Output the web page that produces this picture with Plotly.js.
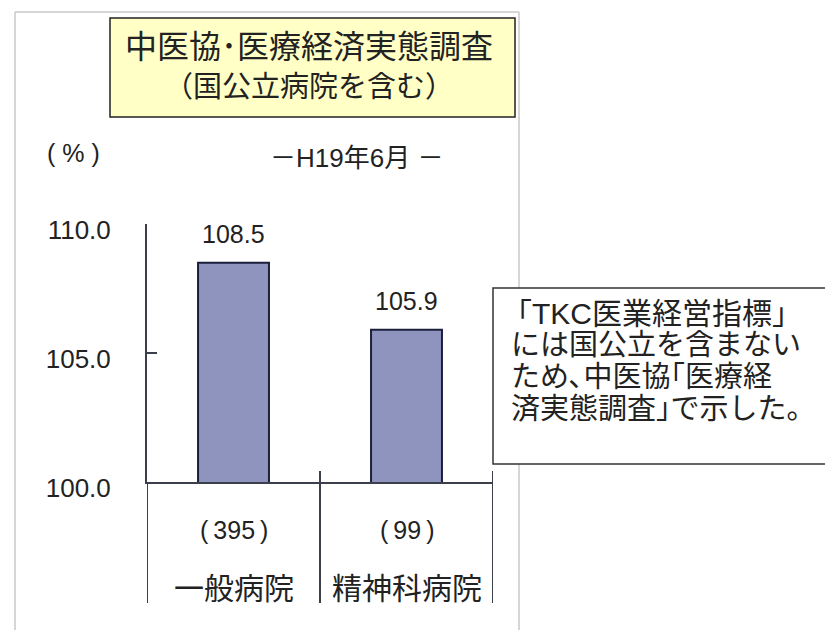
<!DOCTYPE html>
<html>
<head>
<meta charset="utf-8">
<script src="https://cdn.plot.ly/plotly-3.0.1.min.js"></script>
<style>html,body{margin:0;padding:0;background:#fff;}#chart{width:825px;height:630px;}</style>
</head>
<body>
<div id="chart"></div>
<script>
// ---- data ----
const categories = ['一般病院', '精神科病院'];
const counts = ['(395)', '(99)'];
const values = [108.5, 105.9];
const yTickVals = [100, 105, 110];
const yTickText = ['100.0', '105.0', '110.0'];
const titleLines = ['中医協･医療経済実態調査', '（国公立病院を含む）'];
const noteLines = ['「TKC医業経営指標」', 'には国公立を含まない', 'ため､中医協｢医療経', '済実態調査｣で示した。'];
const periodLabel = '－H19年6月 －';
const unitLabel = '( % )';

// ---- layout helpers (pixel -> paper) ----
const W = 825, H = 630;
const L = 147, R = 493, T = 224, B = 482;
const px = x => (x - L) / (R - L);
const py = y => (B - y) / (B - T);
const FONT = 'Liberation Sans, Noto Sans CJK JP, sans-serif';
const INK = '#222222';

const shapes = [];
// outer frame
shapes.push({type:'line', xref:'paper', yref:'paper', x0:px(15), x1:px(15), y0:py(12), y1:py(640), line:{color:'#c8c8c8', width:1.5}});
shapes.push({type:'line', xref:'paper', yref:'paper', x0:px(15), x1:px(519), y0:py(12), y1:py(12), line:{color:'#c8c8c8', width:1.5}});
shapes.push({type:'line', xref:'paper', yref:'paper', x0:px(519), x1:px(519), y0:py(12), y1:py(640), line:{color:'#c8c8c8', width:1.5}});
// title box
shapes.push({type:'rect', xref:'paper', yref:'paper', x0:px(110), x1:px(515), y0:py(18), y1:py(117), fillcolor:'#ffffc6', line:{color:'#222', width:1.5}});
// note box
shapes.push({type:'rect', xref:'paper', yref:'paper', x0:px(493), x1:px(840), y0:py(288), y1:py(464), fillcolor:'#ffffff', line:{color:'#333', width:1.5}});
// category separator lines extending below the axis
[-0.5, 0.5, 1.5].forEach((xv, i) => {
  shapes.push({type:'line', xref:'x', yref:'paper', x0:xv, x1:xv,
    y0: i === 0 ? 0 : py(471), y1: py(603), line:{color:'#3a3f4a', width:2}});
});

const annotations = [];
// title
titleLines.forEach((t, i) => annotations.push({xref:'paper', yref:'paper', x:px(309), y:py(i === 0 ? 47 : 87),
  text:t, showarrow:false, xanchor:'center', yanchor:'middle', font:{family:FONT, size:i === 0 ? 32 : 29, color:INK}}));
// unit & period
annotations.push({xref:'paper', yref:'paper', x:px(73), y:py(153), text:unitLabel, showarrow:false,
  xanchor:'center', yanchor:'middle', font:{family:FONT, size:25, color:INK}});
annotations.push({xref:'paper', yref:'paper', x:px(356), y:py(158), text:periodLabel, showarrow:false,
  xanchor:'center', yanchor:'middle', font:{family:FONT, size:26, color:INK}});
// value labels
categories.forEach((c, i) => annotations.push({xref:'x', yref:'y', x:c, y:values[i], text:values[i].toFixed(1),
  showarrow:false, xanchor:'center', yanchor:'bottom', yshift:13, font:{family:FONT, size:25, color:INK}}));
// category labels
categories.forEach((c, i) => {
  annotations.push({xref:'x', yref:'paper', x:c, y:py(530), text:counts[i].replace('(', '(\u2009').replace(')', '\u2009)'), showarrow:false,
    xanchor:'center', yanchor:'middle', font:{family:FONT, size:25, color:INK}});
  annotations.push({xref:'x', yref:'paper', x:c, y:py(588), text:c, showarrow:false,
    xanchor:'center', yanchor:'middle', font:{family:FONT, size:30, color:INK}});
});
// note
noteLines.forEach((t, i) => annotations.push({xref:'paper', yref:'paper', x:px(i === 0 ? 500 : 509), y:py(313 + i * 32), text:t,
  showarrow:false, xanchor:'left', yanchor:'middle', font:{family:FONT, size:i === 0 ? 30 : 29, color:INK}}));

const trace = {
  type:'bar', x:categories, y:values, width:0.41,
  marker:{color:'#8f94bf', line:{color:'#1c1f3c', width:2}},
  hoverinfo:'none'
};

const layout = {
  width:W, height:H,
  margin:{l:L, r:W - R, t:T, b:H - B, pad:0},
  paper_bgcolor:'#ffffff', plot_bgcolor:'#ffffff',
  showlegend:false,
  font:{family:FONT, color:INK},
  xaxis:{type:'category', range:[-0.5, 1.5], showticklabels:false, ticks:'', showgrid:false, zeroline:false,
    showline:true, linecolor:'#3a3f4a', linewidth:2, fixedrange:true},
  yaxis:{range:[100, 110], tickvals:yTickVals, ticktext:yTickText, ticks:'inside', ticklen:10, tickwidth:2,
    tickcolor:'#3a3f4a', showgrid:false, zeroline:false, showline:true, linecolor:'#3a3f4a', linewidth:2,
    tickfont:{family:FONT, size:26, color:INK}, ticklabelstandoff:29, ticklabelshift:6, fixedrange:true},
  shapes:shapes,
  annotations:annotations
};

Plotly.newPlot('chart', [trace], layout, {displayModeBar:false, staticPlot:true});
</script>
</body>
</html>
